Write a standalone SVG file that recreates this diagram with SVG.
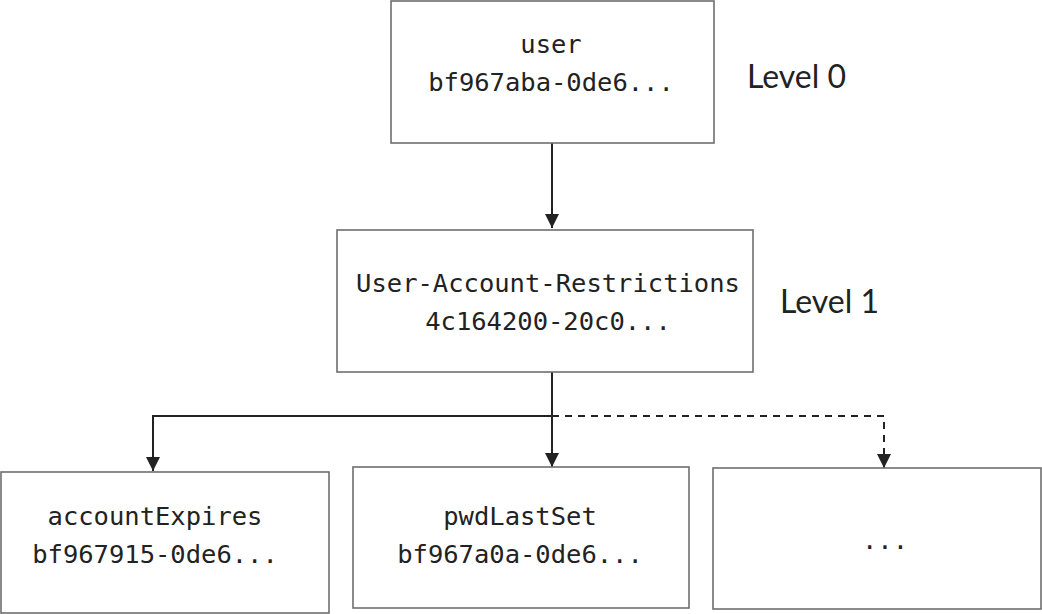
<svg xmlns="http://www.w3.org/2000/svg" width="1042" height="614" viewBox="0 0 1042 614">
<style>
.box{fill:#fff;stroke:#6e6e6e;stroke-width:1.6}
.mono{font-family:"DejaVu Sans Mono","Liberation Mono",monospace;font-size:25.5px;fill:#222;text-anchor:middle}
.lvl{font-family:Lato,"DejaVu Sans",sans-serif;font-size:32px;fill:#222}
.line{fill:none;stroke:#222;stroke-width:2}
.dash{stroke-dasharray:7 6}
</style>
<defs>
<marker id="ah" markerWidth="14" markerHeight="16" refX="14" refY="7" orient="auto" markerUnits="userSpaceOnUse" viewBox="0 0 14 14">
<path d="M0,0 L14,7 L0,14 Z" fill="#222"/>
</marker>
</defs>
<rect width="1042" height="614" fill="#fff"/>
<g id="connectors">
<path class="line" d="M552,143 V228" marker-end="url(#ah)"/>
<path class="line" d="M552,372 V416 H153 V471" marker-end="url(#ah)"/>
<path class="line" d="M552,416 V467" marker-end="url(#ah)"/>
<path class="line dash" d="M552,416 H884 V468" marker-end="url(#ah)"/>
</g>
<g id="user">
<rect class="box" x="391" y="1" width="323" height="142"/>
<text class="mono" x="551" y="53">user</text>
<text class="mono" x="551" y="91">bf967aba-0de6...</text>
</g>
<g id="level0"><text class="lvl" x="747" y="88">Level 0</text></g>
<g id="uar">
<rect class="box" x="337" y="230" width="416" height="142"/>
<text class="mono" x="548" y="292">User-Account-Restrictions</text>
<text class="mono" x="548" y="330">4c164200-20c0...</text>
</g>
<g id="level1"><text class="lvl" x="780" y="313">Level 1</text></g>
<g id="accountExpires">
<rect class="box" x="1" y="472" width="328" height="141"/>
<text class="mono" x="155" y="525">accountExpires</text>
<text class="mono" x="155" y="563">bf967915-0de6...</text>
</g>
<g id="pwdLastSet">
<rect class="box" x="353" y="467" width="336" height="141"/>
<text class="mono" x="520" y="525">pwdLastSet</text>
<text class="mono" x="520" y="563">bf967a0a-0de6...</text>
</g>
<g id="more">
<rect class="box" x="713" y="468" width="328" height="141"/>
<text class="mono" x="885" y="549">...</text>
</g>
</svg>
